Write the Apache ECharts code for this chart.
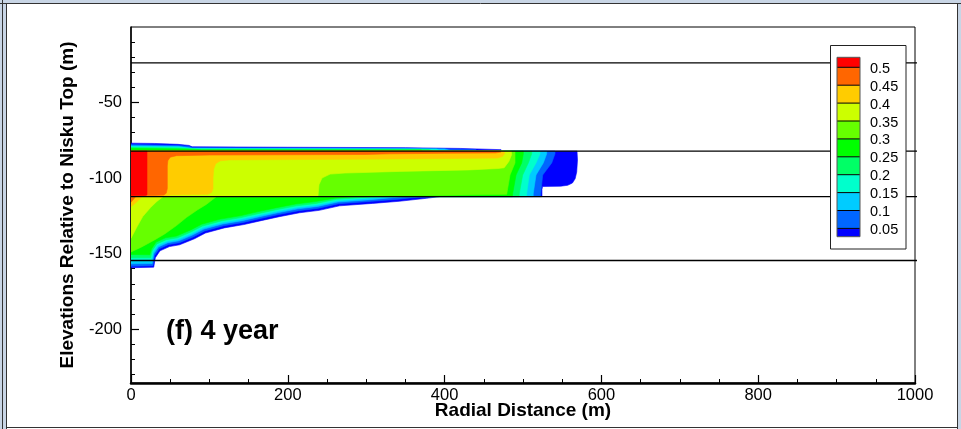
<!DOCTYPE html>
<html>
<head>
<meta charset="utf-8">
<script src="https://cdn.jsdelivr.net/npm/echarts@6/dist/echarts.min.js"></script>
<style>
  html, body { margin: 0; padding: 0; background: #fff; }
  #chart { width: 961px; height: 429px; }
</style>
</head>
<body>
<div id="chart"></div>
<script>
// Formation boundaries (elevation, m)
const layerBounds = [-23.8, -82.2, -112.3, -154.6];

// Contour levels of the saturation field and the fill for each band (lowest band first)
const contourLevels = [0.05, 0.1, 0.15, 0.2, 0.25, 0.3, 0.35, 0.4, 0.45, 0.5];
const bandColors = ['#0000ff', '#0066ff', '#00ccff', '#00ffcc', '#00ff66', '#00ff00',
                    '#66ff00', '#ccff00', '#ffcc00', '#ff6600', '#ff0000'];

// Axis ticks
const yMajorTicks = [-50, -100, -150, -200];
const yMinorTicks = [-10, -20, -30, -40, -60, -70, -80, -90, -110, -120, -130, -140,
                     -160, -170, -180, -190, -210, -220, -230];

// Thin plume leaking above the caprock top, one outline per band [r (m), z (m)]
const cap0 = [[0,-82.2],[0,-76.9],[30,-77.1],[60,-77.7],[74,-78.4],[78,-79.3],[200,-79.6],[350,-79.9],[420,-80.4],[472,-81.2],[472,-82.2]];
const cap1 = [[0,-82.2],[0,-77.8],[60,-78.4],[74,-79.0],[78,-79.9],[350,-80.3],[440,-81.2],[440,-82.2]];
const cap2 = [[0,-82.2],[0,-78.6],[60,-79.0],[78,-80.3],[400,-80.7],[410,-82.2]];
const cap3 = [[0,-82.2],[0,-79.2],[60,-79.6],[80,-80.6],[390,-80.9],[395,-82.2]];
const cap4 = [[0,-82.2],[0,-79.8],[60,-80.1],[80,-80.9],[380,-81.1],[385,-82.2]];
const cap5 = [[0,-82.2],[0,-80.4],[80,-80.9],[90,-81.3],[370,-81.4],[372,-82.2]];

// Right-hand limit of each band inside the injection zone, top to bottom
const front0 = [[568.9,-82.2],[569.5,-88],[568.5,-96],[566.5,-100.5],[563,-103.3],[557,-104.8],[548,-105.4],[525,-105.6],[524.2,-107.5],[524.2,-112.3]];
const front1 = [[540.8,-82.2],[540.8,-84],[536.6,-90],[525.1,-98],[522.6,-110],[522.4,-112.3]];
const front2 = [[530.2,-82.2],[530.2,-84],[525.9,-90],[516.6,-98],[513.1,-110],[513,-112.3]];
const front3 = [[521.7,-82.2],[521.7,-84],[516.6,-90],[508,-98],[504.7,-110],[504.5,-112.3]];
const front4 = [[511.1,-82.2],[511.1,-84],[506.8,-90],[499.6,-98],[495.3,-110],[495,-112.3]];
const front5 = [[500.4,-82.2],[500.4,-84],[498.3,-90],[491.1,-98],[486.9,-110],[486.5,-112.3]];
const front6 = [[489.8,-82.2],[489.8,-90],[483.4,-98],[479.2,-110.8],[400,-111.4],[330,-111.7],[300,-112.3]];
const front7 = [[485,-82.2],[485.5,-84.5],[482,-89],[476,-93.2],[468,-93.7],[432,-94.6],[343,-95.6],[273,-96.7],[254,-97.4],[243.6,-100],[239.8,-104.5],[238.5,-112.3]];
const front8 = [[475,-82.2],[477,-83.5],[474,-85.6],[468,-86.8],[380,-87.2],[300,-87.5],[200,-87.8],[125,-88],[114,-88.6],[108,-90.5],[105.5,-94],[104.6,-100],[104.6,-107],[103,-109.5],[98,-110.8],[50,-111.2],[40,-112.3]];
const front9 = [[470,-82.2],[472,-82.8],[465,-83.4],[400,-83.6],[330,-84.0],[300,-84.4],[200,-84.6],[100,-84.8],[58,-85.2],[50,-86.2],[47,-88.5],[46.3,-92],[46.3,-107],[45,-110],[42,-111.3],[20,-111.8],[6,-112.3]];
const front10 = [[20.4,-82.2],[20.4,-111.2],[18,-111.6]];

// Lower limit of each band below the injection zone, from the well outwards
const under0 = [[0,-159.4],[29,-159.0],[31,-152.8],[37,-148.2],[49,-145.4],[62,-144.2],[81,-140.2],[95,-136.4],[119,-133.0],[144,-130.8],[166,-128.2],[189,-125.6],[215,-123.0],[240,-121.4],[266,-118.4],[308,-116.8],[342,-115.4],[377,-113.4],[394,-112.3]];
const under1 = [[0,-158.4],[28,-158.0],[30,-151.4],[36,-146.8],[48,-144.0],[62,-142.8],[80,-138.8],[94,-135.0],[118,-131.6],[143,-129.4],[165,-126.8],[188,-124.2],[214,-121.6],[239,-120.0],[265,-117.0],[307,-115.4],[341,-114.0],[372,-112.3]];
const under2 = [[0,-156.8],[27,-156.6],[29,-150.2],[35,-145.6],[47,-142.8],[61,-141.6],[79,-137.6],[93,-133.8],[117,-130.4],[142,-128.2],[164,-125.6],[187,-123.0],[213,-120.4],[238,-118.8],[264,-115.9],[306,-114.3],[335,-112.9],[350,-112.3]];
const under3 = [[0,-154.8],[26,-154.8],[28,-149.2],[34,-144.6],[46,-141.8],[60,-140.6],[78,-136.6],[92,-132.8],[116,-129.4],[141,-127.2],[163,-124.6],[186,-122.0],[212,-119.4],[237,-117.8],[263,-115.0],[300,-113.4],[330,-112.3]];
const under4 = [[0,-152.8],[25,-152.8],[27,-148.2],[33,-143.6],[45,-140.8],[59,-139.6],[77,-135.6],[91,-131.8],[115,-128.4],[140,-126.2],[162,-123.6],[185,-121.0],[211,-118.4],[236,-116.8],[262,-114.1],[295,-112.9],[318,-112.3]];
const under5 = [[0,-150.6],[24,-150.8],[26,-147.0],[32,-142.4],[44,-139.6],[58,-138.4],[76,-134.4],[90,-130.6],[114,-127.2],[139,-125.0],[161,-122.4],[184,-119.8],[210,-117.2],[235,-115.6],[260,-113.3],[285,-112.3]];
const under6 = [[0,-148.9],[13,-145.8],[30,-141],[43,-137],[58,-131.5],[71,-126],[85,-121],[96,-117.5],[109,-112.3]];
const under7 = [[0,-139.9],[8,-132],[15,-125.5],[25,-119.5],[33,-115.5],[41,-112.3]];
const under8 = [[0,-119],[8,-115.5],[14,-112.3]];
const under9 = [[0,-116],[6,-112.3]];
const under10 = [[0,-111.6]];

const FONT = 'Liberation Sans, Arial, Helvetica, sans-serif';

// Assemble closed outlines, lowest band first so higher bands paint on top
const caps = [cap0, cap1, cap2, cap3, cap4, cap5];
const fronts = [front0, front1, front2, front3, front4, front5, front6, front7, front8, front9, front10];
const unders = [under0, under1, under2, under3, under4, under5, under6, under7, under8, under9, under10];
const polys = [];
for (let k = 0; k < bandColors.length; k++) {
  if (caps[k]) polys.push({ pts: caps[k], color: bandColors[k] });
  polys.push({
    pts: [[0, layerBounds[1]]].concat(fronts[k], unders[k].slice().reverse()),
    color: bandColors[k]
  });
}

// Colour bar legend
const barX = 837, barW = 23, barTop = 57.3, barBottom = 236.7, step = 17.9, firstY = 67.3;
const boundaryY = i => firstY + (contourLevels.length - 1 - i) * step;
const legend = [];
legend.push({ type: 'rect', z: 100, shape: { x: 830.5, y: 45.5, width: 75.5, height: 203.5 },
  style: { fill: '#fff', stroke: '#222', lineWidth: 1 } });
for (let k = 0; k < bandColors.length; k++) {
  const top = k === bandColors.length - 1 ? barTop : boundaryY(k);
  const bottom = k === 0 ? barBottom : boundaryY(k - 1);
  legend.push({ type: 'rect', z: 101, shape: { x: barX, y: top, width: barW, height: bottom - top },
    style: { fill: bandColors[k] } });
}
contourLevels.forEach((lv, i) => {
  const y = boundaryY(i);
  legend.push({ type: 'line', z: 102, shape: { x1: barX, y1: y, x2: barX + barW, y2: y },
    style: { stroke: '#000', lineWidth: 1 } });
  legend.push({ type: 'text', z: 102, x: 870, y: y + 1.5,
    style: { text: String(lv), font: '14.5px ' + FONT, fill: '#000', textVerticalAlign: 'middle' } });
});
legend.push({ type: 'rect', z: 103, shape: { x: barX, y: barTop, width: barW, height: barBottom - barTop },
  style: { fill: 'none', stroke: '#555', lineWidth: 1 } });

// Window frame around the figure
const frame = [
  { type: 'rect', z: 90, shape: { x: 0, y: 0, width: 961, height: 3 }, style: { fill: '#c8d5e5' } },
  { type: 'rect', z: 90, shape: { x: 0, y: 0, width: 6, height: 429 }, style: { fill: '#c8d5e5' } },
  { type: 'rect', z: 90, shape: { x: 958, y: 0, width: 3, height: 429 }, style: { fill: '#c8d5e5' } },
  { type: 'line', z: 91, shape: { x1: 0, y1: 3.5, x2: 961, y2: 3.5 }, style: { stroke: '#333', lineWidth: 1 } },
  { type: 'line', z: 91, shape: { x1: 2.5, y1: 0, x2: 2.5, y2: 429 }, style: { stroke: '#333', lineWidth: 1 } },
  { type: 'line', z: 91, shape: { x1: 6.5, y1: 3.5, x2: 6.5, y2: 429 }, style: { stroke: '#333', lineWidth: 1 } },
  { type: 'line', z: 91, shape: { x1: 957.5, y1: 3.5, x2: 957.5, y2: 429 }, style: { stroke: '#333', lineWidth: 1 } },
  { type: 'line', z: 91, shape: { x1: 6.5, y1: 427.5, x2: 957.5, y2: 427.5 }, style: { stroke: '#333', lineWidth: 1 } }
];

const chart = echarts.init(document.getElementById('chart'), null, { renderer: 'canvas' });
chart.setOption({
  animation: false,
  backgroundColor: '#fff',
  grid: { left: 131, right: 46, top: 27, bottom: 46, show: true, borderColor: '#000', borderWidth: 1, backgroundColor: 'transparent' },
  xAxis: {
    type: 'value', min: 0, max: 1000, interval: 200,
    axisLine: { show: true, onZero: false, lineStyle: { color: '#000', width: 2.5 } },
    axisTick: { show: true, inside: true, length: 8, lineStyle: { color: '#000', width: 1.2 } },
    minorTick: { show: true, splitNumber: 4, length: 4, lineStyle: { color: '#000', width: 1 } },
    axisLabel: { margin: 4, fontSize: 16.5, color: '#000', fontFamily: FONT, formatter: v => String(v) },
    splitLine: { show: false },
    name: 'Radial Distance (m)', nameLocation: 'middle', nameGap: 18, nameMoveOverlap: false,
    nameTextStyle: { fontSize: 19, fontWeight: 'bold', color: '#000', fontFamily: FONT }
  },
  yAxis: [
    {
      type: 'value', min: -235.7, max: 0,
      axisLine: { show: true, onZero: false, lineStyle: { color: '#000', width: 1.5 } },
      axisTick: { show: true, inside: true, length: 8, customValues: yMajorTicks, lineStyle: { color: '#000', width: 1.2 } },
      axisLabel: { customValues: yMajorTicks, margin: 9, fontSize: 16.5, color: '#000', fontFamily: FONT },
      splitLine: { show: false },
      name: 'Elevations Relative to Nisku Top (m)', nameLocation: 'middle', nameGap: 54, nameMoveOverlap: false,
      nameTextStyle: { fontSize: 19, fontWeight: 'bold', color: '#000', fontFamily: FONT }
    },
    {
      type: 'value', min: -235.7, max: 0, position: 'left', offset: 0,
      axisLine: { show: false },
      axisTick: { show: true, inside: true, length: 4, customValues: yMinorTicks, lineStyle: { color: '#000', width: 1 } },
      axisLabel: { show: false },
      splitLine: { show: false }
    }
  ],
  title: {
    text: '(f) 4 year', left: 161, top: 313,
    textStyle: { fontSize: 27, fontWeight: 'bold', color: '#000', fontFamily: FONT }
  },
  graphic: { elements: frame.concat(legend) },
  series: [
    {
      type: 'custom', coordinateSystem: 'cartesian2d', silent: true, z: 2, clip: true,
      data: polys.map(p => p.pts[0]),
      encode: { x: 0, y: 1 },
      renderItem: function (params, api) {
        const p = polys[params.dataIndex];
        return {
          type: 'polygon',
          shape: { points: p.pts.map(pt => api.coord(pt)) },
          style: { fill: p.color, stroke: p.color, lineWidth: 0.6 }
        };
      }
    }
  ].concat(layerBounds.map(v => ({
    type: 'line', silent: true, z: 5, clip: false, symbol: 'none',
    data: [[0, v], [1017, v]],
    lineStyle: { color: '#000', width: 1.3 }
  })))
});
</script>
</body>
</html>
